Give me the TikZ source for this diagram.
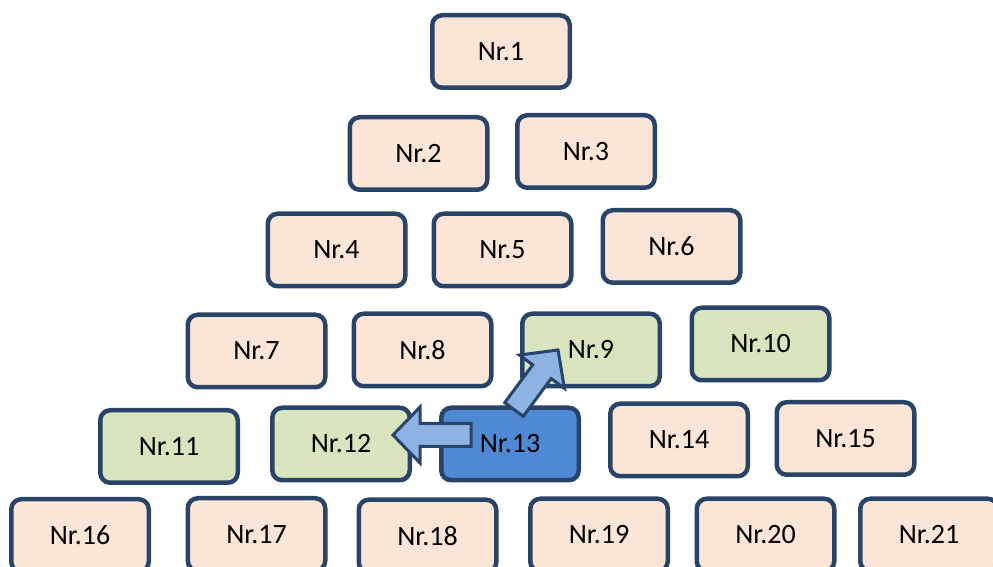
\documentclass[tikz,border=0pt]{standalone}
\usepackage{fontspec}
\setmainfont{Carlito}
\usetikzlibrary{calc}
\definecolor{boxline}{HTML}{294468}
\definecolor{peach}{HTML}{FBE5D6}
\definecolor{leaf}{HTML}{D7E4BD}
\definecolor{pick}{HTML}{4F88D3}
\definecolor{arrowfill}{HTML}{8DB3E2}
\begin{document}
\begin{tikzpicture}[x=1pt,y=1pt,
        box/.style={draw=boxline,line width=4.5pt,rounded corners=10pt,fill=peach,
            minimum width=137.5pt,minimum height=72.5pt,font=\fontsize{28}{34}\selectfont},
        goal/.style={box,fill=leaf},
        here/.style={box,fill=pick},
        movearrow/.style={draw=boxline,line width=3pt,fill=arrowfill}]
            \useasboundingbox (0,0) rectangle (993,567);
            \clip (0,0) rectangle (993,567);
            \node[box] (n1) at (501,515.5) {Nr.1};
            \node[box] (n2) at (418.5,413.5) {Nr.2};
            \node[box] (n3) at (586,415.5) {Nr.3};
            \node[box] (n4) at (336.5,317) {Nr.4};
            \node[box] (n5) at (502.5,317) {Nr.5};
            \node[box] (n6) at (671.5,320.5) {Nr.6};
            \node[box] (n7) at (256.5,216) {Nr.7};
            \node[box] (n8) at (422.5,217) {Nr.8};
            \node[goal] (n9) at (591,217) {Nr.9};
            \node[goal] (n10) at (760.5,223) {Nr.10};
            \node[goal] (n11) at (169,120.5) {Nr.11};
            \node[goal] (n12) at (341,123) {Nr.12};
            \node[here] (n13) at (510,123) {Nr.13};
            \node[box] (n14) at (679,127) {Nr.14};
            \node[box] (n15) at (845.5,128.5) {Nr.15};
            \node[box] (n16) at (80,31.5) {Nr.16};
            \node[box] (n17) at (256.5,32.5) {Nr.17};
            \node[box] (n18) at (427.5,31) {Nr.18};
            \node[box] (n19) at (599,32) {Nr.19};
            \node[box] (n20) at (765.5,32) {Nr.20};
            \node[box] (n21) at (929,32) {Nr.21};
            \coordinate (tail1) at ($(n13.center)+(-39,9)$);
            \coordinate (tip1) at ($(n12.east)+(-19,9)$);
            \coordinate (tail2) at ($(n13.north)+(4,-4)$);
            \coordinate (tip2) at ($(n9.center)+(-33,0)$);
            \foreach \a/\b in {tail1/tip1,tail2/tip2}
                \draw[movearrow] let \p1=($(\b)-(\a)$), \n1={atan2(\y1,\x1)}, \n2={veclen(\x1,\y1)} in
                    ($(\a)+(\n1+90:11.5)$) -- ++(\n1:\n2-27pt) -- ++(\n1+90:16.5) -- (\b)
                    -- ($(\a)+(\n1:\n2-27pt)+(\n1-90:28)$) -- ++(\n1+90:16.5)
                    -- ($(\a)+(\n1-90:11.5)$) -- cycle;
        \end{tikzpicture}
\end{document}
